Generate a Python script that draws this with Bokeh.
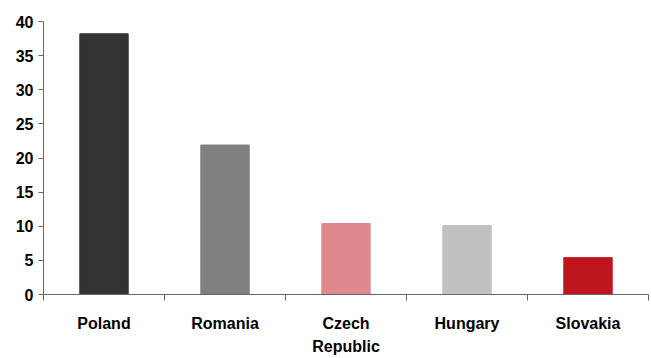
from bokeh.plotting import figure
from bokeh.models import ColumnDataSource, FixedTicker, Label, Range1d
from bokeh.embed import file_html
from bokeh.resources import INLINE

countries = ["Poland", "Romania", "Czech\nRepublic", "Hungary", "Slovakia"]
population = [38.2, 21.9, 10.4, 10.1, 5.4]
bar_colors = ["#333333", "#808080", "#DF898E", "#C0C0C0", "#BF161E"]
y_ticks = [0, 5, 10, 15, 20, 25, 30, 35, 40]
title_text = "Population of the key CEE EU member states (mn inhabitants)"

positions = [i + 0.5 for i in range(len(countries))]
source = ColumnDataSource(dict(x=positions, top=population, color=bar_colors))

p = figure(width=651, height=358, output_backend="svg", toolbar_location=None,
           x_range=Range1d(0, len(countries)), y_range=Range1d(0, 40),
           min_border_left=43, min_border_right=3, min_border_top=21,
           min_border_bottom=63)
p.outline_line_color = None
p.background_fill_color = "white"
p.border_fill_color = "white"
p.xgrid.visible = False
p.ygrid.visible = False

p.vbar(x="x", top="top", width=0.4, color="color", source=source)

FONT = "Liberation Sans"

# y axis
p.yaxis.ticker = FixedTicker(ticks=y_ticks)
p.yaxis.axis_line_color = "#666666"
p.yaxis.major_tick_line_color = "#666666"
p.yaxis.major_tick_out = 5
p.yaxis.major_tick_in = 0
p.yaxis.minor_tick_line_color = None
p.yaxis.major_label_text_font = FONT
p.yaxis.major_label_text_font_style = "bold"
p.yaxis.major_label_text_font_size = "16px"
p.yaxis.major_label_text_color = "black"
p.yaxis.major_label_standoff = 5

# x axis: labels at centres, tick marks at category boundaries
p.xaxis.ticker = FixedTicker(ticks=positions,
                             minor_ticks=list(range(len(countries) + 1)))
p.xaxis.major_label_overrides = {pos: name for pos, name in zip(positions, countries)}
p.xaxis.axis_line_color = "#666666"
p.xaxis.major_tick_line_color = None
p.xaxis.major_tick_out = 0
p.xaxis.major_tick_in = 0
p.xaxis.minor_tick_line_color = "#666666"
p.xaxis.minor_tick_out = 6
p.xaxis.minor_tick_in = 0
p.xaxis.major_label_text_font = FONT
p.xaxis.major_label_text_font_style = "bold"
p.xaxis.major_label_text_font_size = "16px"
p.xaxis.major_label_text_color = "black"
p.xaxis.major_label_text_line_height = 1.4
p.xaxis.major_label_standoff = 14

# title, mostly cut off by the top edge as in the reference
p.add_layout(Label(x=-0.18, y=42.7, text=title_text, text_font=FONT,
                   text_font_style="bold", text_font_size="16px",
                   text_color="black", text_baseline="alphabetic"))

open("out.html", "w").write(file_html(p, INLINE))
